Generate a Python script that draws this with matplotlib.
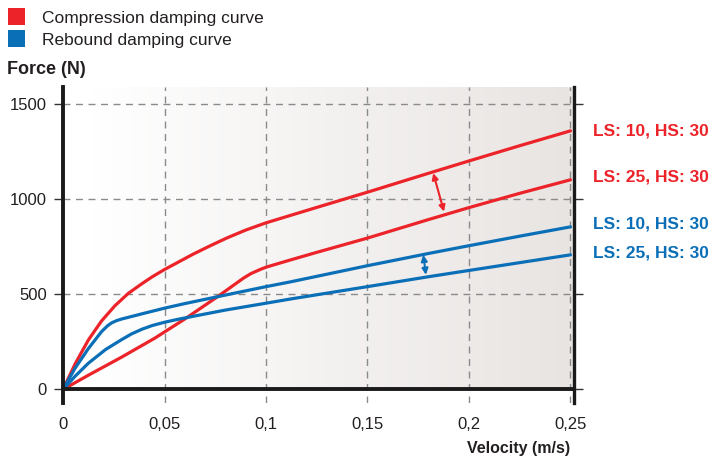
import numpy as np
import matplotlib.pyplot as plt
from matplotlib.patches import Rectangle

plt.rcParams['font.family'] = ['Liberation Sans', 'DejaVu Sans']

RED = '#ec2329'
BLUE = '#0b6fb8'
DARK = '#231f20'

# ============================================================
# Data (velocity m/s, force N)
# ============================================================
v_comp_ls10 = [0, 0.006, 0.0125, 0.019, 0.0256, 0.0322, 0.0388, 0.044, 0.05, 0.064,
               0.072, 0.0806, 0.09, 0.1, 0.125, 0.15, 0.18, 0.2, 0.225, 0.25]
f_comp_ls10 = [0, 135, 260, 360, 440, 505, 555, 592, 630, 710,
               752, 795, 837, 875, 956, 1036, 1135, 1200, 1280, 1358]

v_comp_ls25 = [0, 0.0125, 0.0289, 0.0453, 0.06, 0.0765, 0.0888, 0.0925, 0.0954,
               0.0978, 0.1, 0.105, 0.112, 0.125, 0.15, 0.18, 0.2, 0.225, 0.25]
f_comp_ls25 = [0, 75, 170, 270, 370, 490, 584, 608, 622,
               633, 642, 658, 680, 720, 795, 892, 955, 1030, 1101]

v_reb_ls10 = [0, 0.0059, 0.0125, 0.019, 0.022, 0.024, 0.0265, 0.0289, 0.0388,
              0.05, 0.06, 0.0765, 0.1, 0.112, 0.15, 0.18, 0.2, 0.225, 0.25]
f_reb_ls10 = [0, 111, 215, 304, 335, 350, 362, 370, 397,
              427, 451, 488, 540, 565, 650, 714, 755, 805, 854]

v_reb_ls25 = [0, 0.006, 0.0125, 0.021, 0.0289, 0.0338, 0.0388, 0.044, 0.05,
              0.056, 0.064, 0.08, 0.1, 0.112, 0.15, 0.18, 0.2, 0.225, 0.25]
f_reb_ls25 = [0, 70, 138, 210, 262, 292, 316, 336, 353,
              367, 384, 417, 453, 475, 540, 592, 625, 666, 707]

series_labels = ['LS: 10, HS: 30', 'LS: 25, HS: 30', 'LS: 10, HS: 30', 'LS: 25, HS: 30']
label_forces = [1358, 1117, 870, 717]
label_colors = [RED, RED, BLUE, BLUE]

x_ticks = [0, 0.05, 0.1, 0.15, 0.2, 0.25]
x_ticklabels = ['0', '0,05', '0,1', '0,15', '0,2', '0,25']
y_ticks = [0, 500, 1000, 1500]

# arrows between settings: (v_start, f_start, v_end, f_end)
red_arrow = (0.1824, 1136, 0.1877, 934)
blue_arrow = (0.1775, 707, 0.1788, 602)

# ============================================================
# Figure
# ============================================================
fig = plt.figure(figsize=(7.12, 4.66), dpi=100)
ax = fig.add_axes([0.0885, 0.1356, 0.717, 0.6784])

XMAX = 0.2515
YMIN, YMAX = -70, 1590
ax.set_xlim(0, XMAX)
ax.set_ylim(YMIN, YMAX)

# gradient background (white on the left, warm grey on the right)
grad = np.linspace(0, 1, 256)
c0 = np.array([1.0, 1.0, 1.0])
c1 = np.array([0xe8, 0xe4, 0xe2]) / 255
ramp = np.clip((grad - 0.06) / 0.94, 0, 1)
img = c0[None, :] * (1 - ramp[:, None]) + c1[None, :] * ramp[:, None]
ax.imshow(img[None, :, :], extent=(0, XMAX, 0, YMAX), aspect='auto',
          zorder=0, interpolation='bilinear')

# grid
for x in x_ticks[1:]:
    ax.axvline(x, color='#8a8a8a', lw=1.0, ls=(0, (5, 4)), zorder=1)
for y in y_ticks[1:]:
    ax.axhline(y, color='#8a8a8a', lw=1.0, ls=(0, (5, 4)), zorder=1)

# curves
for v, f, c in [(v_comp_ls10, f_comp_ls10, RED), (v_comp_ls25, f_comp_ls25, RED),
                (v_reb_ls10, f_reb_ls10, BLUE), (v_reb_ls25, f_reb_ls25, BLUE)]:
    ax.plot(v, f, color=c, lw=2.3, solid_joinstyle='round',
            solid_capstyle='round', zorder=3)

# arrows
for (x0, y0, x1, y1), c in [(red_arrow, RED), (blue_arrow, BLUE)]:
    ax.annotate('', xy=(x1, y1), xytext=(x0, y0),
                arrowprops=dict(arrowstyle='<|-|>', color=c, lw=1.5,
                                mutation_scale=9, shrinkA=0, shrinkB=0),
                zorder=4)

# spines
ax.spines['top'].set_visible(False)
ax.spines['left'].set_linewidth(2.8)
ax.spines['right'].set_linewidth(2.4)
ax.spines['bottom'].set_linewidth(2.8)
ax.spines['bottom'].set_position(('data', 0))
for s in ['left', 'right', 'bottom']:
    ax.spines[s].set_color('#1a1a1a')
    ax.spines[s].set_zorder(5)

ax.set_xticks(x_ticks)
ax.set_xticklabels(x_ticklabels)
ax.set_yticks(y_ticks)
ax.tick_params(axis='x', length=0, pad=20, labelsize=12, labelcolor=DARK)
ax.tick_params(axis='y', direction='out', length=6.5, width=1.0, color='#333333',
               pad=5, labelsize=12, labelcolor=DARK, right=True)

# right-hand labels
for lab, f, c in zip(series_labels, label_forces, label_colors):
    ax.text(0.2613, f, lab, color=c, fontsize=12.5, fontweight='bold',
            va='center', ha='left', clip_on=False)

# axis titles
fig.text(7 / 712, 1 - 69 / 466, 'Force (N)', fontsize=13, fontweight='bold',
         color=DARK, va='center', ha='left')
fig.text(570 / 712, 1 - 448 / 466, 'Velocity (m/s)', fontsize=11.5,
         fontweight='bold', color=DARK, va='center', ha='right')

# legend squares
for i, (c, lab) in enumerate([(RED, 'Compression damping curve'),
                              (BLUE, 'Rebound damping curve')]):
    top = 8 + i * 22
    fig.add_artist(Rectangle((8 / 712, 1 - (top + 17) / 466), 17 / 712, 17 / 466,
                             transform=fig.transFigure, facecolor=c,
                             edgecolor='none'))
    fig.text(42 / 712, 1 - (top + 15) / 466, lab, fontsize=12.5, color=DARK,
             va='baseline', ha='left')

fig.savefig('out.png', dpi=100)
